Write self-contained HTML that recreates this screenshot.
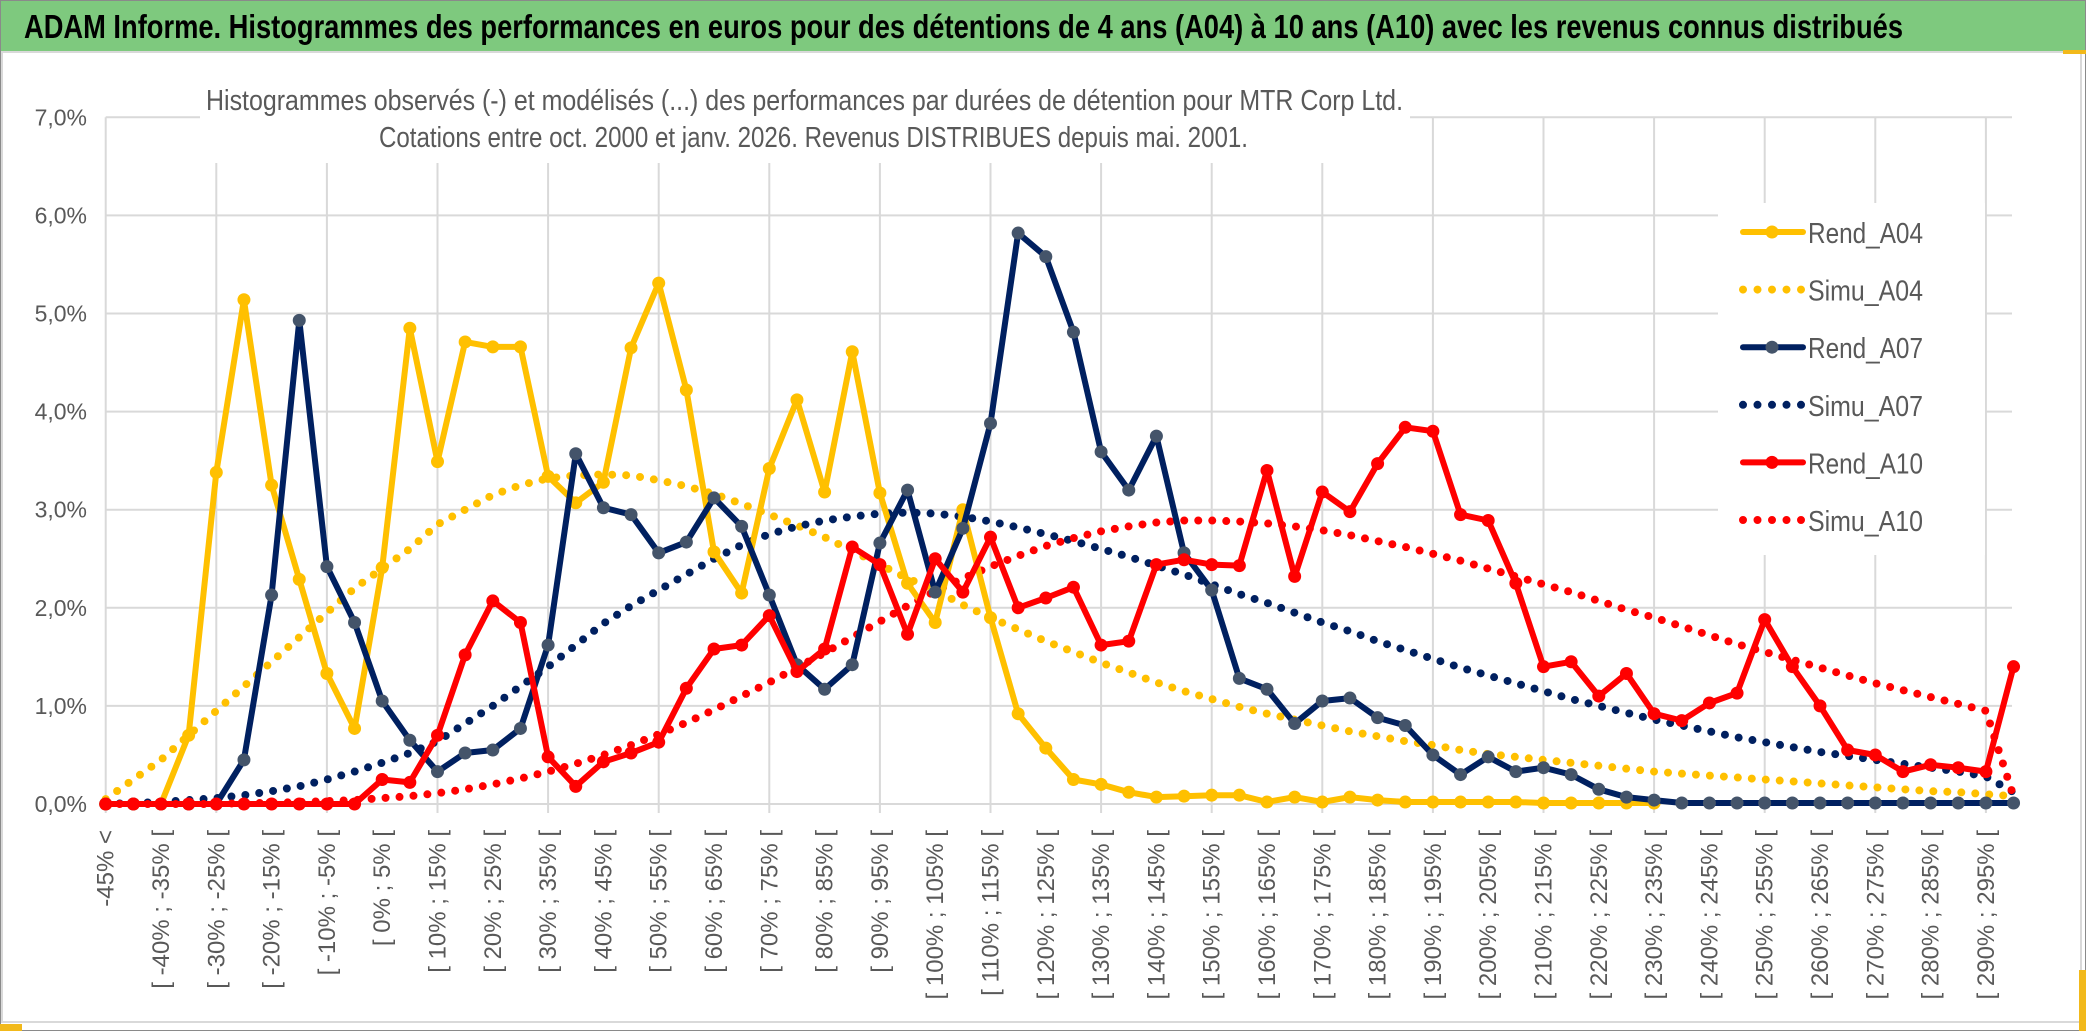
<!DOCTYPE html>
<html><head><meta charset="utf-8"><style>
html,body{margin:0;padding:0;background:#fff;}
svg{display:block;}
text{font-family:"Liberation Sans",sans-serif;}
</style></head><body>
<svg id="chart" width="2086" height="1031" viewBox="0 0 2086 1031" xmlns="http://www.w3.org/2000/svg">
<rect x="0" y="0" width="2086" height="1031" fill="#fff" stroke="#8a8a8a" stroke-width="2"/>
<rect x="1" y="1" width="2084" height="50" fill="#7ec97e"/>
<text x="24" y="38" font-size="33" font-weight="bold" fill="#000" textLength="1879" lengthAdjust="spacingAndGlyphs">ADAM Informe. Histogrammes des performances en euros pour des détentions de 4 ans (A04) à 10 ans (A10) avec les revenus connus distribués</text>
<rect x="2" y="52" width="2079" height="970" fill="#fff" stroke="#d9d9d9" stroke-width="2"/>
<rect x="0" y="1024" width="22" height="7" fill="#f2b91a"/>
<rect x="2079" y="970" width="7" height="61" fill="#f2b91a"/>
<rect x="2063" y="50" width="23" height="4" fill="#f2b91a"/>
<g id="grid"></g>
<g id="ylabels"></g>
<g id="xlabels"></g>
<rect x="200" y="55" width="1210" height="108" fill="#fff"/>
<text x="206" y="110" font-size="29" fill="#595959" textLength="1197" lengthAdjust="spacingAndGlyphs">Histogrammes observés (-) et modélisés (...) des performances par durées de détention pour MTR Corp Ltd.</text>
<text x="379" y="147" font-size="29" fill="#595959" textLength="869" lengthAdjust="spacingAndGlyphs">Cotations entre oct. 2000 et janv. 2026. Revenus DISTRIBUES depuis mai. 2001.</text>
<rect x="1718" y="203" width="267" height="352" fill="#fff"/>
<g id="series"></g>
<g id="legend"></g>
</svg>
<script>
const categories = ["-45% <"];
for (let p = -45; p < 300; p += 5) categories.push("[ " + p + "% ; " + (p + 5) + "% [");
const yTicks = [0,1,2,3,4,5,6,7];
const yTickLabels = ["0,0%","1,0%","2,0%","3,0%","4,0%","5,0%","6,0%","7,0%"];
const rendA04 = [0,0,0,0.7,3.38,5.14,3.25,2.29,1.33,0.77,2.41,4.85,3.49,4.71,4.66,4.66,3.34,3.07,3.28,4.65,5.31,4.22,2.57,2.15,3.42,4.12,3.18,4.61,3.17,2.25,1.85,3.0,1.9,0.92,0.57,0.25,0.2,0.12,0.07,0.08,0.09,0.09,0.02,0.07,0.02,0.07,0.04,0.02,0.02,0.02,0.02,0.02,0.01,0.01,0.01,0.01,0.01,null,null,null,null,null,null,null,null,null,null,null,null,null];
const simuA04 = [0.05,0.25,0.45,0.7,0.95,1.2,1.45,1.7,1.95,2.2,2.4,2.6,2.85,3.0,3.15,3.25,3.32,3.35,3.36,3.35,3.3,3.24,3.16,3.06,2.95,2.84,2.72,2.58,2.44,2.3,2.18,2.03,1.9,1.78,1.66,1.55,1.44,1.34,1.24,1.15,1.07,0.99,0.92,0.86,0.8,0.74,0.69,0.64,0.6,0.55,0.51,0.48,0.45,0.42,0.39,0.36,0.33,0.31,0.29,0.27,0.25,0.23,0.21,0.19,0.17,0.15,0.13,0.12,0.1,0.08];
const rendA07 = [0,0,0,0,0,0.45,2.13,4.93,2.42,1.85,1.05,0.65,0.33,0.52,0.55,0.77,1.62,3.57,3.02,2.95,2.56,2.67,3.12,2.83,2.13,1.42,1.17,1.42,2.66,3.2,2.16,2.81,3.88,5.82,5.58,4.81,3.59,3.2,3.75,2.56,2.18,1.28,1.17,0.82,1.05,1.08,0.88,0.8,0.5,0.3,0.48,0.33,0.37,0.3,0.15,0.07,0.04,0.01,0.01,0.01,0.01,0.01,0.01,0.01,0.01,0.01,0.01,0.01,0.01,0.01];
const simuA07 = [0,0.01,0.02,0.04,0.06,0.09,0.13,0.18,0.25,0.33,0.42,0.52,0.64,0.82,1.0,1.2,1.4,1.62,1.84,2.02,2.18,2.34,2.5,2.64,2.75,2.83,2.89,2.93,2.96,2.97,2.96,2.93,2.88,2.82,2.75,2.68,2.6,2.52,2.43,2.34,2.24,2.14,2.05,1.95,1.85,1.76,1.66,1.57,1.48,1.39,1.31,1.23,1.15,1.07,1.0,0.93,0.86,0.8,0.74,0.68,0.63,0.58,0.53,0.49,0.45,0.41,0.37,0.33,0.28,0.12];
const rendA10 = [0,0,0,0,0,0,0,0,0,0,0.25,0.22,0.7,1.52,2.07,1.85,0.48,0.18,0.43,0.52,0.63,1.18,1.58,1.62,1.92,1.35,1.58,2.62,2.44,1.73,2.5,2.16,2.72,2.0,2.1,2.21,1.62,1.66,2.44,2.49,2.44,2.43,3.4,2.32,3.18,2.98,3.47,3.84,3.8,2.95,2.89,2.25,1.4,1.45,1.1,1.33,0.92,0.85,1.03,1.13,1.88,1.4,1.0,0.55,0.5,0.33,0.4,0.37,0.33,1.4];
const simuA10 = [0,0,0,0,0,0.01,0.01,0.02,0.03,0.04,0.06,0.08,0.11,0.15,0.2,0.26,0.33,0.41,0.5,0.6,0.71,0.83,0.96,1.1,1.24,1.39,1.54,1.7,1.86,2.02,2.17,2.3,2.42,2.53,2.63,2.71,2.78,2.83,2.87,2.89,2.89,2.88,2.86,2.83,2.79,2.74,2.68,2.62,2.55,2.48,2.4,2.32,2.24,2.16,2.07,1.98,1.9,1.81,1.72,1.63,1.55,1.47,1.39,1.31,1.23,1.16,1.09,1.02,0.95,0.08];

const NS = "http://www.w3.org/2000/svg";
const X0 = 105.7, DX = 27.65, Y0 = 804, DY = 98.1, XR = 2012;
function xPos(i){ return X0 + i * DX; }
function yPos(v){ return Y0 - v * DY; }
function mk(tag, attrs, parent){ const e = document.createElementNS(NS, tag); for (const k in attrs) e.setAttribute(k, attrs[k]); parent.appendChild(e); return e; }

const grid = document.getElementById('grid');
yTicks.forEach(t => {
  const l = mk('line', {x1: X0, x2: XR, y1: yPos(t), y2: yPos(t), stroke: '#d9d9d9', 'stroke-width': 2}, grid);
  
  
});
for (let i = 0; i < categories.length; i += 4) {
  const l = mk('line', {x1: xPos(i), x2: xPos(i), y1: yPos(7), y2: Y0 + 9, stroke: '#d9d9d9', 'stroke-width': 2}, grid);
  
  
}
const yl = document.getElementById('ylabels');
yTicks.forEach((t, k) => {
  const tx = mk('text', {x: 87, y: yPos(t) + 8, 'font-size': 23, fill: '#595959', 'text-anchor': 'end'}, yl);
  tx.textContent = yTickLabels[k];
  
  
});
const xl = document.getElementById('xlabels');
for (let i = 0; i < categories.length; i += 2) {
  const x = xPos(i) + 8, y = 830;
  const tx = mk('text', {x: x, y: y, 'font-size': 24, fill: '#595959', 'text-anchor': 'end', transform: 'rotate(-90 ' + x + ' ' + y + ')'}, xl);
  tx.textContent = categories[i];
  
  
}

const series = document.getElementById('series');
function pathFor(arr){
  let d = '', pen = false;
  arr.forEach((v, i) => {
    if (v === null) { pen = false; return; }
    d += (pen ? 'L' : 'M') + xPos(i).toFixed(1) + ' ' + yPos(v).toFixed(1) + ' ';
    pen = true;
  });
  return d;
}
function drawDotted(arr, color, name){
  const p = mk('path', {d: pathFor(arr), fill: 'none', stroke: color, 'stroke-width': 8, 'stroke-linecap': 'round', 'stroke-dasharray': '0 14'}, series);
  
  
}
function drawSolid(arr, color, mcolor, name){
  const g = mk('g', {}, series);
  
  
  const p = mk('path', {d: pathFor(arr), fill: 'none', stroke: color, 'stroke-width': 6, 'stroke-linejoin': 'round'}, g);
  
  
  arr.forEach((v, i) => {
    if (v === null) return;
    const c = mk('circle', {cx: xPos(i), cy: yPos(v), r: 6.5, fill: mcolor}, g);
    
    
  });
}
drawDotted(simuA04, '#ffc000', 'simu-a04-line');
drawDotted(simuA07, '#002060', 'simu-a07-line');
drawDotted(simuA10, '#ff0000', 'simu-a10-line');
drawSolid(rendA04, '#ffc000', '#ffc000', 'rend-a04');
drawSolid(rendA07, '#002060', '#44546a', 'rend-a07');
drawSolid(rendA10, '#ff0000', '#ff0000', 'rend-a10');

const legend = document.getElementById('legend');
const legendNames = ["Rend_A04","Simu_A04","Rend_A07","Simu_A07","Rend_A10","Simu_A10"];
const legendColors = ["#ffc000","#ffc000","#002060","#002060","#ff0000","#ff0000"];
const legendMarker = ["#ffc000",null,"#44546a",null,"#ff0000",null];
legendNames.forEach((n, k) => {
  const cy = 232 + k * 57.6;
  const g = mk('g', {}, legend);
  
  
  if (legendMarker[k]) {
    mk('line', {x1: 1743, x2: 1803, y1: cy, y2: cy, stroke: legendColors[k], 'stroke-width': 6, 'stroke-linecap': 'round'}, g);
    mk('circle', {cx: 1772, cy: cy, r: 6.5, fill: legendMarker[k]}, g);
  } else {
    mk('line', {x1: 1743, x2: 1803, y1: cy, y2: cy, stroke: legendColors[k], 'stroke-width': 8, 'stroke-linecap': 'round', 'stroke-dasharray': '0 14.5'}, g);
  }
  const t = mk('text', {x: 1808, y: cy + 11, 'font-size': 29, fill: '#595959', textLength: 115, lengthAdjust: 'spacingAndGlyphs'}, g);
  t.textContent = n;
  
  
});
</script>
</body></html>
